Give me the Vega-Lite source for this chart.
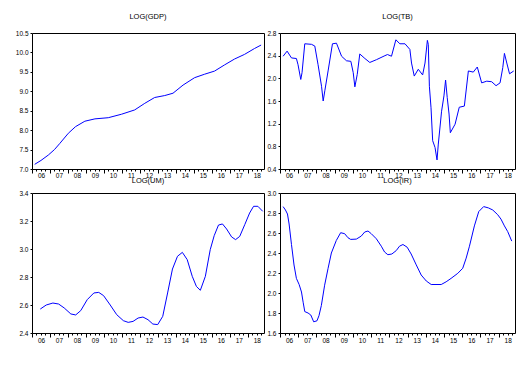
{
"$schema": "https://vega.github.io/schema/vega-lite/v6.json",
"background": "white",
"padding": {"left": 14, "top": 12, "right": 5, "bottom": 5},
"spacing": -3,
"datasets": {
"gdp": [
{"t":2006.15,"v":7.12},{"t":2006.5,"v":7.22},{"t":2006.91,"v":7.36},{"t":2007.25,"v":7.5},{"t":2007.55,"v":7.66},{"t":2008.02,"v":7.92},{"t":2008.42,"v":8.09},{"t":2008.94,"v":8.23},{"t":2009.5,"v":8.29},{"t":2010.24,"v":8.32},{"t":2010.98,"v":8.41},{"t":2011.71,"v":8.52},{"t":2012.27,"v":8.69},{"t":2012.82,"v":8.84},{"t":2013.38,"v":8.89},{"t":2013.84,"v":8.95},{"t":2014.4,"v":9.16},{"t":2015.04,"v":9.35},{"t":2015.6,"v":9.44},{"t":2016.15,"v":9.52},{"t":2016.71,"v":9.68},{"t":2017.26,"v":9.83},{"t":2017.82,"v":9.95},{"t":2018.37,"v":10.1},{"t":2018.74,"v":10.19}
],
"tb": [
{"t":2006.17,"v":2.39},{"t":2006.39,"v":2.48},{"t":2006.63,"v":2.36},{"t":2006.9,"v":2.35},{"t":2006.99,"v":2.24},{"t":2007.14,"v":1.98},{"t":2007.21,"v":2.1},{"t":2007.36,"v":2.61},{"t":2007.73,"v":2.6},{"t":2007.91,"v":2.57},{"t":2008.09,"v":2.24},{"t":2008.28,"v":1.86},{"t":2008.37,"v":1.6},{"t":2008.46,"v":1.78},{"t":2008.64,"v":2.13},{"t":2008.88,"v":2.61},{"t":2009.1,"v":2.62},{"t":2009.38,"v":2.39},{"t":2009.65,"v":2.31},{"t":2009.89,"v":2.3},{"t":2010.02,"v":2.1},{"t":2010.11,"v":1.85},{"t":2010.24,"v":2.07},{"t":2010.38,"v":2.43},{"t":2010.66,"v":2.35},{"t":2010.93,"v":2.28},{"t":2011.3,"v":2.33},{"t":2011.76,"v":2.4},{"t":2011.9,"v":2.42},{"t":2012.12,"v":2.39},{"t":2012.36,"v":2.68},{"t":2012.58,"v":2.61},{"t":2012.86,"v":2.61},{"t":2013.13,"v":2.51},{"t":2013.22,"v":2.27},{"t":2013.37,"v":2.04},{"t":2013.59,"v":2.16},{"t":2013.83,"v":2.06},{"t":2013.96,"v":2.27},{"t":2014.09,"v":2.67},{"t":2014.14,"v":2.6},{"t":2014.2,"v":1.86},{"t":2014.29,"v":1.48},{"t":2014.38,"v":0.9},{"t":2014.51,"v":0.78},{"t":2014.62,"v":0.56},{"t":2014.69,"v":0.84},{"t":2014.87,"v":1.42},{"t":2015.0,"v":1.69},{"t":2015.09,"v":1.97},{"t":2015.18,"v":1.66},{"t":2015.28,"v":1.37},{"t":2015.35,"v":1.04},{"t":2015.61,"v":1.19},{"t":2015.84,"v":1.49},{"t":2016.12,"v":1.51},{"t":2016.34,"v":2.13},{"t":2016.61,"v":2.11},{"t":2016.83,"v":2.2},{"t":2017.07,"v":1.92},{"t":2017.35,"v":1.95},{"t":2017.62,"v":1.94},{"t":2017.86,"v":1.87},{"t":2018.08,"v":1.92},{"t":2018.23,"v":2.19},{"t":2018.32,"v":2.44},{"t":2018.45,"v":2.27},{"t":2018.6,"v":2.08},{"t":2018.83,"v":2.13}
],
"um": [
{"t":2006.46,"v":2.571},{"t":2006.79,"v":2.6},{"t":2007.16,"v":2.614},{"t":2007.48,"v":2.607},{"t":2007.79,"v":2.579},{"t":2008.16,"v":2.536},{"t":2008.43,"v":2.529},{"t":2008.71,"v":2.56},{"t":2009.07,"v":2.638},{"t":2009.44,"v":2.686},{"t":2009.71,"v":2.69},{"t":2009.98,"v":2.667},{"t":2010.35,"v":2.6},{"t":2010.71,"v":2.531},{"t":2011.08,"v":2.488},{"t":2011.35,"v":2.476},{"t":2011.62,"v":2.483},{"t":2011.9,"v":2.507},{"t":2012.17,"v":2.514},{"t":2012.45,"v":2.495},{"t":2012.72,"v":2.464},{"t":2012.99,"v":2.46},{"t":2013.27,"v":2.519},{"t":2013.54,"v":2.686},{"t":2013.81,"v":2.857},{"t":2014.09,"v":2.948},{"t":2014.36,"v":2.976},{"t":2014.63,"v":2.924},{"t":2014.91,"v":2.805},{"t":2015.14,"v":2.733},{"t":2015.36,"v":2.705},{"t":2015.64,"v":2.805},{"t":2015.91,"v":2.995},{"t":2016.13,"v":3.095},{"t":2016.37,"v":3.171},{"t":2016.59,"v":3.179},{"t":2016.82,"v":3.143},{"t":2017.1,"v":3.086},{"t":2017.32,"v":3.067},{"t":2017.55,"v":3.09},{"t":2017.83,"v":3.174},{"t":2018.1,"v":3.257},{"t":2018.32,"v":3.305},{"t":2018.56,"v":3.305},{"t":2018.83,"v":3.269}
],
"ir": [
{"t":2006.17,"v":2.864},{"t":2006.3,"v":2.83},{"t":2006.41,"v":2.79},{"t":2006.5,"v":2.69},{"t":2006.63,"v":2.485},{"t":2006.77,"v":2.28},{"t":2006.9,"v":2.146},{"t":2007.05,"v":2.085},{"t":2007.18,"v":2.01},{"t":2007.27,"v":1.908},{"t":2007.36,"v":1.814},{"t":2007.54,"v":1.8},{"t":2007.69,"v":1.78},{"t":2007.85,"v":1.712},{"t":2008.03,"v":1.722},{"t":2008.14,"v":1.773},{"t":2008.27,"v":1.875},{"t":2008.45,"v":2.078},{"t":2008.64,"v":2.247},{"t":2008.82,"v":2.4},{"t":2009.09,"v":2.525},{"t":2009.33,"v":2.603},{"t":2009.55,"v":2.593},{"t":2009.73,"v":2.553},{"t":2009.88,"v":2.536},{"t":2010.19,"v":2.539},{"t":2010.46,"v":2.569},{"t":2010.65,"v":2.61},{"t":2010.83,"v":2.62},{"t":2011.01,"v":2.593},{"t":2011.29,"v":2.542},{"t":2011.56,"v":2.468},{"t":2011.74,"v":2.41},{"t":2011.92,"v":2.383},{"t":2012.14,"v":2.39},{"t":2012.38,"v":2.424},{"t":2012.56,"v":2.468},{"t":2012.75,"v":2.485},{"t":2012.98,"v":2.458},{"t":2013.2,"v":2.39},{"t":2013.48,"v":2.281},{"t":2013.75,"v":2.18},{"t":2014.03,"v":2.12},{"t":2014.3,"v":2.085},{"t":2014.85,"v":2.085},{"t":2015.12,"v":2.112},{"t":2015.39,"v":2.146},{"t":2015.76,"v":2.197},{"t":2016.03,"v":2.247},{"t":2016.22,"v":2.349},{"t":2016.4,"v":2.468},{"t":2016.67,"v":2.671},{"t":2016.91,"v":2.814},{"t":2017.18,"v":2.864},{"t":2017.44,"v":2.851},{"t":2017.68,"v":2.83},{"t":2017.95,"v":2.783},{"t":2018.13,"v":2.739},{"t":2018.32,"v":2.671},{"t":2018.5,"v":2.614},{"t":2018.72,"v":2.519}
]
},
"vconcat": [
{"hconcat": [
{
"title": {"text": "LOG(GDP)"},
"width": 232, "height": 136,
"data": {"name": "gdp"},
"layer": [
{"mark": {"type": "line", "color": "#0000ff", "strokeWidth": 1},
"encoding": {
"x": {"field": "t", "type": "quantitative", "scale": {"domain": [2006, 2018.9], "nice": false, "zero": false},
"axis": {"orient": "bottom", "values": [2006,2007,2008,2009,2010,2011,2012,2013,2014,2015,2016,2017,2018], "labels": false, "tickSize": 4, "title": null}},
"y": {"field": "v", "type": "quantitative", "scale": {"domain": [7, 10.5], "nice": false, "zero": false},
"axis": {"orient": "left", "values": [7,7.5,8,8.5,9,9.5,10,10.5], "format": ".1f", "title": null}}
}},
{"mark": {"type": "point", "opacity": 0, "size": 1},
"encoding": {"x": {"field": "t", "type": "quantitative", "scale": {"domain": [2006, 2018.9], "nice": false, "zero": false},
"axis": {"orient": "bottom", "values": [2006,2006.25,2006.5,2006.75,2007,2007.25,2007.5,2007.75,2008,2008.25,2008.5,2008.75,2009,2009.25,2009.5,2009.75,2010,2010.25,2010.5,2010.75,2011,2011.25,2011.5,2011.75,2012,2012.25,2012.5,2012.75,2013,2013.25,2013.5,2013.75,2014,2014.25,2014.5,2014.75,2015,2015.25,2015.5,2015.75,2016,2016.25,2016.5,2016.75,2017,2017.25,2017.5,2017.75,2018,2018.25,2018.5,2018.75], "labels": false, "tickSize": 2, "title": null}},
"y": {"field": "v", "type": "quantitative", "axis": null}}},
{"mark": {"type": "point", "opacity": 0, "size": 1},
"encoding": {"x": {"field": "t", "type": "quantitative", "scale": {"domain": [2006, 2018.9], "nice": false, "zero": false},
"axis": {"orient": "bottom", "values": [2006.5,2007.5,2008.5,2009.5,2010.5,2011.5,2012.5,2013.5,2014.5,2015.5,2016.5,2017.5,2018.5], "ticks": false, "tickSize": 0, "labelPadding": 3, "labelExpr": "format(floor(datum.value) - 2000, '02d')", "title": null}},
"y": {"field": "v", "type": "quantitative", "axis": null}}}
],
"resolve": {"axis": {"x": "independent", "y": "independent"}}
},
{
"title": {"text": "LOG(TB)"},
"width": 235, "height": 136,
"data": {"name": "tb"},
"layer": [
{"mark": {"type": "line", "color": "#0000ff", "strokeWidth": 1},
"encoding": {
"x": {"field": "t", "type": "quantitative", "scale": {"domain": [2006, 2018.9], "nice": false, "zero": false},
"axis": {"orient": "bottom", "values": [2006,2007,2008,2009,2010,2011,2012,2013,2014,2015,2016,2017,2018], "labels": false, "tickSize": 4, "title": null}},
"y": {"field": "v", "type": "quantitative", "scale": {"domain": [0.4, 2.8], "nice": false, "zero": false},
"axis": {"orient": "left", "values": [0.4,0.8,1.2,1.6,2.0,2.4,2.8], "format": ".1f", "title": null}}
}},
{"mark": {"type": "point", "opacity": 0, "size": 1},
"encoding": {"x": {"field": "t", "type": "quantitative", "scale": {"domain": [2006, 2018.9], "nice": false, "zero": false},
"axis": {"orient": "bottom", "values": [2006,2006.25,2006.5,2006.75,2007,2007.25,2007.5,2007.75,2008,2008.25,2008.5,2008.75,2009,2009.25,2009.5,2009.75,2010,2010.25,2010.5,2010.75,2011,2011.25,2011.5,2011.75,2012,2012.25,2012.5,2012.75,2013,2013.25,2013.5,2013.75,2014,2014.25,2014.5,2014.75,2015,2015.25,2015.5,2015.75,2016,2016.25,2016.5,2016.75,2017,2017.25,2017.5,2017.75,2018,2018.25,2018.5,2018.75], "labels": false, "tickSize": 2, "title": null}},
"y": {"field": "v", "type": "quantitative", "axis": null}}},
{"mark": {"type": "point", "opacity": 0, "size": 1},
"encoding": {"x": {"field": "t", "type": "quantitative", "scale": {"domain": [2006, 2018.9], "nice": false, "zero": false},
"axis": {"orient": "bottom", "values": [2006.5,2007.5,2008.5,2009.5,2010.5,2011.5,2012.5,2013.5,2014.5,2015.5,2016.5,2017.5,2018.5], "ticks": false, "tickSize": 0, "labelPadding": 3, "labelExpr": "format(floor(datum.value) - 2000, '02d')", "title": null}},
"y": {"field": "v", "type": "quantitative", "axis": null}}}
],
"resolve": {"axis": {"x": "independent", "y": "independent"}}
}
], "bounds": "flush", "spacing": 16},
{"hconcat": [
{
"title": {"text": "LOG(UM)", "offset": 6},
"width": 232, "height": 140,
"data": {"name": "um"},
"layer": [
{"mark": {"type": "line", "color": "#0000ff", "strokeWidth": 1},
"encoding": {
"x": {"field": "t", "type": "quantitative", "scale": {"domain": [2006, 2018.9], "nice": false, "zero": false},
"axis": {"orient": "bottom", "values": [2006,2007,2008,2009,2010,2011,2012,2013,2014,2015,2016,2017,2018], "labels": false, "tickSize": 4, "title": null}},
"y": {"field": "v", "type": "quantitative", "scale": {"domain": [2.4, 3.4], "nice": false, "zero": false},
"axis": {"orient": "left", "values": [2.4,2.6,2.8,3.0,3.2,3.4], "format": ".1f", "title": null}}
}},
{"mark": {"type": "point", "opacity": 0, "size": 1},
"encoding": {"x": {"field": "t", "type": "quantitative", "scale": {"domain": [2006, 2018.9], "nice": false, "zero": false},
"axis": {"orient": "bottom", "values": [2006,2006.25,2006.5,2006.75,2007,2007.25,2007.5,2007.75,2008,2008.25,2008.5,2008.75,2009,2009.25,2009.5,2009.75,2010,2010.25,2010.5,2010.75,2011,2011.25,2011.5,2011.75,2012,2012.25,2012.5,2012.75,2013,2013.25,2013.5,2013.75,2014,2014.25,2014.5,2014.75,2015,2015.25,2015.5,2015.75,2016,2016.25,2016.5,2016.75,2017,2017.25,2017.5,2017.75,2018,2018.25,2018.5,2018.75], "labels": false, "tickSize": 2, "title": null}},
"y": {"field": "v", "type": "quantitative", "axis": null}}},
{"mark": {"type": "point", "opacity": 0, "size": 1},
"encoding": {"x": {"field": "t", "type": "quantitative", "scale": {"domain": [2006, 2018.9], "nice": false, "zero": false},
"axis": {"orient": "bottom", "values": [2006.5,2007.5,2008.5,2009.5,2010.5,2011.5,2012.5,2013.5,2014.5,2015.5,2016.5,2017.5,2018.5], "ticks": false, "tickSize": 0, "labelPadding": 4, "labelExpr": "format(floor(datum.value) - 2000, '02d')", "title": null}},
"y": {"field": "v", "type": "quantitative", "axis": null}}}
],
"resolve": {"axis": {"x": "independent", "y": "independent"}}
},
{
"title": {"text": "LOG(IR)", "offset": 6},
"width": 235, "height": 140,
"data": {"name": "ir"},
"layer": [
{"mark": {"type": "line", "color": "#0000ff", "strokeWidth": 1},
"encoding": {
"x": {"field": "t", "type": "quantitative", "scale": {"domain": [2006, 2018.9], "nice": false, "zero": false},
"axis": {"orient": "bottom", "values": [2006,2007,2008,2009,2010,2011,2012,2013,2014,2015,2016,2017,2018], "labels": false, "tickSize": 4, "title": null}},
"y": {"field": "v", "type": "quantitative", "scale": {"domain": [1.6, 3.0], "nice": false, "zero": false},
"axis": {"orient": "left", "values": [1.6,1.8,2.0,2.2,2.4,2.6,2.8,3.0], "format": ".1f", "title": null}}
}},
{"mark": {"type": "point", "opacity": 0, "size": 1},
"encoding": {"x": {"field": "t", "type": "quantitative", "scale": {"domain": [2006, 2018.9], "nice": false, "zero": false},
"axis": {"orient": "bottom", "values": [2006,2006.25,2006.5,2006.75,2007,2007.25,2007.5,2007.75,2008,2008.25,2008.5,2008.75,2009,2009.25,2009.5,2009.75,2010,2010.25,2010.5,2010.75,2011,2011.25,2011.5,2011.75,2012,2012.25,2012.5,2012.75,2013,2013.25,2013.5,2013.75,2014,2014.25,2014.5,2014.75,2015,2015.25,2015.5,2015.75,2016,2016.25,2016.5,2016.75,2017,2017.25,2017.5,2017.75,2018,2018.25,2018.5,2018.75], "labels": false, "tickSize": 2, "title": null}},
"y": {"field": "v", "type": "quantitative", "axis": null}}},
{"mark": {"type": "point", "opacity": 0, "size": 1},
"encoding": {"x": {"field": "t", "type": "quantitative", "scale": {"domain": [2006, 2018.9], "nice": false, "zero": false},
"axis": {"orient": "bottom", "values": [2006.5,2007.5,2008.5,2009.5,2010.5,2011.5,2012.5,2013.5,2014.5,2015.5,2016.5,2017.5,2018.5], "ticks": false, "tickSize": 0, "labelPadding": 4, "labelExpr": "format(floor(datum.value) - 2000, '02d')", "title": null}},
"y": {"field": "v", "type": "quantitative", "axis": null}}}
],
"resolve": {"axis": {"x": "independent", "y": "independent"}}
}
], "bounds": "flush", "spacing": 16}
],
"config": {
"font": "Liberation Sans",
"view": {"stroke": "#000000", "strokeWidth": 1},
"axis": {"grid": false, "domain": false, "tickColor": "#000000", "tickWidth": 1, "tickSize": 2, "labelColor": "#000000", "labelFont": "Liberation Sans", "labelFontSize": 6.5, "labelPadding": 2, "labelFlush": false, "labelOverlap": false},
"title": {"font": "Liberation Sans", "fontSize": 7.5, "fontWeight": "normal", "color": "#000000", "anchor": "middle", "offset": 10}
}
}
